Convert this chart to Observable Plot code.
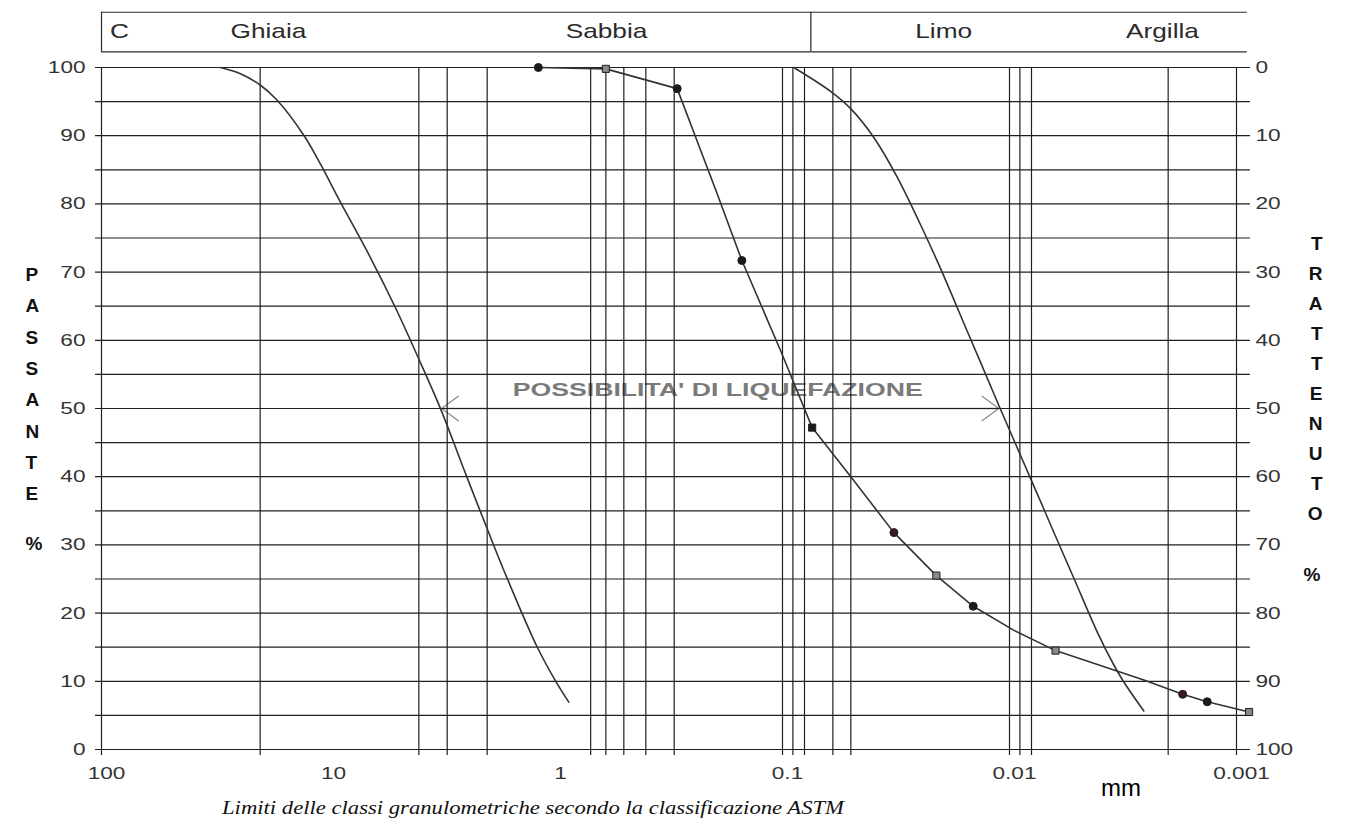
<!DOCTYPE html>
<html>
<head>
<meta charset="utf-8">
<script src="https://cdn.jsdelivr.net/npm/d3@7"></script>
<script src="https://cdn.jsdelivr.net/npm/@observablehq/plot@0.6"></script>
<style>
  html, body { margin: 0; padding: 0; background: #fff; }
  svg { display: block; }
</style>
</head>
<body>
<script>
// ---------- data ----------
const xTickValues = [100, 10, 1, 0.1, 0.01, 0.001];
const xTickText = ["100", "10", "1", "0.1", "0.01", "0.001"];
const gridDiameters = [100, 20, 4, 3, 2, 0.7, 0.6, 0.5, 0.4, 0.3, 0.1, 0.09, 0.08, 0.06, 0.05, 0.01, 0.009, 0.008, 0.002, 0.001];
const gridPercent = [0, 5, 10, 15, 20, 25, 30, 35, 40, 45, 50, 55, 60, 65, 70, 75, 80, 85, 90, 95, 100];
const yTickValues = [0, 10, 20, 30, 40, 50, 60, 70, 80, 90, 100];
const yTickLeftText = ["0", "10", "20", "30", "40", "50", "60", "70", "80", "90", "100"];
const yTickRightText = ["100", "90", "80", "70", "60", "50", "40", "30", "20", "10", "0"];

const classNames = ["C", "Ghiaia", "Sabbia", "Limo", "Argilla"];
const classLabelX = [83.3, 18.4, 0.596, 0.0195, 0.00212];
const classBounds = [100, 0.075];

// curve 1 (gravel)
const gravelD = [29.9, 24.42, 19.93, 16.83, 12.85, 10.84, 9.155, 6.53, 5.07, 3.933, 3.178, 2.543, 2.034, 1.69, 1.204, 1.0, 0.874];
const gravelP = [100, 99.09, 97.4, 95.2, 90.07, 85.82, 81.13, 72.1, 64.77, 56.7, 49.62, 41.23, 32.98, 26.29, 15.03, 10.06, 6.94];

// curve 2 (sand – silt, with measured points)
const sandD = [1.19, 0.6, 0.291, 0.194, 0.151, 0.102, 0.074, 0.05, 0.0323, 0.021, 0.01445, 0.0096, 0.00627, 0.00256, 0.001726, 0.001346, 0.00088];
const sandP = [100, 99.8, 96.9, 81.5, 71.7, 58.5, 47.2, 40.0, 31.8, 25.5, 21.0, 17.5, 14.5, 10.2, 8.1, 7.0, 5.5];

// markers on curve 2
const markD = [1.19, 0.6, 0.291, 0.151, 0.074, 0.0323, 0.021, 0.01445, 0.00627, 0.001726, 0.001346, 0.00088];
const markP = [100, 99.8, 96.9, 71.7, 47.2, 31.8, 25.5, 21.0, 14.5, 8.1, 7.0, 5.5];
const markShape = ["circle", "square", "circle", "circle", "square", "circle", "square", "circle", "square", "circle", "circle", "square"];
const markTone = ["dark", "light", "dark", "dark", "dark", "red", "light", "dark", "light", "red", "dark", "light"];

// curve 3 (silt)
const siltD = [0.0892, 0.0614, 0.0502, 0.0396, 0.03124, 0.02385, 0.02014, 0.01535, 0.01297, 0.01114, 0.00957, 0.00808, 0.00706, 0.00607, 0.00521, 0.00411, 0.00347, 0.003136, 0.00256];
const siltP = [100, 96.5, 94.0, 89.74, 83.92, 75.92, 70.54, 61.33, 55.62, 50.44, 45.38, 39.75, 35.26, 30.2, 25.15, 17.26, 12.39, 9.9, 5.65];

// liquefaction range
const liqFrom = [3.178];
const liqTo = [0.01114];
const liqMid = [0.19];
const liqLevel = [50];
const liqText = "POSSIBILITA' DI LIQUEFAZIONE";
const captionText = "Limiti delle classi granulometriche secondo la classificazione ASTM";

// ---------- tables ----------
const toRows = (D, P) => D.map((d, i) => ({d, p: P[i]}));
const gravel = toRows(gravelD, gravelP);
const sand = toRows(sandD, sandP);
const silt = toRows(siltD, siltP);
const marks = markD.map((d, i) => ({d, p: markP[i], shape: markShape[i], tone: markTone[i]}));
const toneFill = {dark: "#1b1b1b", red: "#3e1822", light: "#8a8a8a"};

const headerTop = 108.1, headerBottom = 102.3, headerMid = 105.3;
const lineColor = "#1f1f1f";

const plot = Plot.plot({
  width: 1348,
  height: 827,
  marginLeft: 101,
  marginRight: 112,
  marginTop: 67,
  marginBottom: 78,
  x: {type: "log", domain: [100, 0.001], axis: null},
  y: {domain: [0, 100], axis: null},
  style: {background: "#fff", fontFamily: "'Liberation Sans', Arial, sans-serif"},
  marks: [
    // liquefaction arrows (under the grid line)
    Plot.arrow(liqMid, {x1: d => d, x2: liqFrom[0], y1: liqLevel[0], y2: liqLevel[0], stroke: "#8c8c8c", strokeWidth: 1.3, headAngle: 72, headLength: 24}),
    Plot.arrow(liqMid, {x1: d => d, x2: liqTo[0], y1: liqLevel[0], y2: liqLevel[0], stroke: "#8c8c8c", strokeWidth: 1.3, headAngle: 72, headLength: 24}),
    Plot.text([liqText], {x: 0.193, y: 52.7, text: d => d, fontSize: 19, fontWeight: "bold", fill: "#7a7a7a"}),

    // grid
    Plot.ruleY(gridPercent, {y: d => d, x1: 106.3, x2: 0.000868, stroke: lineColor, strokeWidth: 1.2}),
    Plot.ruleX(gridDiameters, {x: d => d, y1: -0.88, y2: 100, stroke: lineColor, strokeWidth: 1.2}),

    // header box
    Plot.ruleY([headerTop, headerBottom], {y: d => d, x1: 100, x2: 0.000897, stroke: "#2a2a2a", strokeWidth: 1.2}),
    Plot.ruleX(classBounds, {x: d => d, y1: headerBottom, y2: headerTop, stroke: "#2a2a2a", strokeWidth: 1.2}),
    Plot.text(classNames, {x: (d, i) => classLabelX[i], y: headerMid, text: d => d, fontSize: 21, fill: "#2b2b2b"}),

    // curves
    Plot.line(gravel, {x: "d", y: "p", stroke: "#333", strokeWidth: 1.6, curve: "catmull-rom"}),
    Plot.line(sand, {x: "d", y: "p", stroke: "#333", strokeWidth: 1.6, curve: "linear"}),
    Plot.line(silt, {x: "d", y: "p", stroke: "#333", strokeWidth: 1.6, curve: "catmull-rom"}),
    Plot.dot(marks, {x: "d", y: "p", symbol: "shape", r: 4, fill: d => toneFill[d.tone], stroke: "#1b1b1b", strokeWidth: 1}),

    // tick labels
    Plot.text(xTickValues, {x: d => d, y: 0, text: (d, i) => xTickText[i], dy: 24, dx: 5, fontSize: 17, fill: "#333"}),
    Plot.text(yTickValues, {x: 100, y: d => d, text: (d, i) => yTickLeftText[i], dx: -16, textAnchor: "end", fontSize: 17, fill: "#333"}),
    Plot.text(yTickValues, {x: 0.001, y: d => d, text: (d, i) => yTickRightText[i], dx: 19, textAnchor: "start", fontSize: 17, fill: "#333"}),

    // axis titles
    Plot.text(["P\nA\nS\nS\nA\nN\nT\nE"], {frameAnchor: "left", dx: -76, dy: -28, text: d => d, fontSize: 19, fontWeight: "bold", lineHeight: 1.65, fill: "#111"}),
    Plot.text(["%"], {frameAnchor: "left", dx: -76, dy: 135, text: d => d, fontSize: 19, fontWeight: "bold", fill: "#111"}),
    Plot.text(["T\nR\nA\nT\nT\nE\nN\nU\nT\nO"], {frameAnchor: "right", dx: 86, dy: -33, text: d => d, fontSize: 19, fontWeight: "bold", lineHeight: 1.58, fill: "#111"}),
    Plot.text(["%"], {frameAnchor: "right", dx: 84, dy: 166, text: d => d, fontSize: 19, fontWeight: "bold", fill: "#111"}),
    Plot.text(["mm"], {frameAnchor: "bottom", dx: 452, dy: 46, text: d => d, fontSize: 24, fill: "#000"}),
    Plot.text([captionText], {frameAnchor: "bottom", dx: -136, dy: 64, text: d => d, fontSize: 19, fontStyle: "italic", fontFamily: "'Liberation Serif', 'Times New Roman', serif", fill: "#111"})
  ]
});

document.body.append(plot);

// horizontally stretched lettering, as in the reference
const stretchFactor = new Map();
classNames.forEach(s => stretchFactor.set(s, 1.25));
[...xTickText, ...yTickLeftText, ...yTickRightText].forEach(s => stretchFactor.set(s, 1.33));
const stretchTarget = new Map([[liqText, 410], [captionText, 622]]);
plot.querySelectorAll("text").forEach(t => {
  if (t.querySelector("tspan")) return;
  const s = t.textContent;
  let L = null;
  if (stretchTarget.has(s)) L = stretchTarget.get(s);
  else if (stretchFactor.has(s)) L = t.getComputedTextLength() * stretchFactor.get(s);
  if (L) {
    t.setAttribute("textLength", L.toFixed(1));
    t.setAttribute("lengthAdjust", "spacingAndGlyphs");
  }
});
</script>
</body>
</html>
